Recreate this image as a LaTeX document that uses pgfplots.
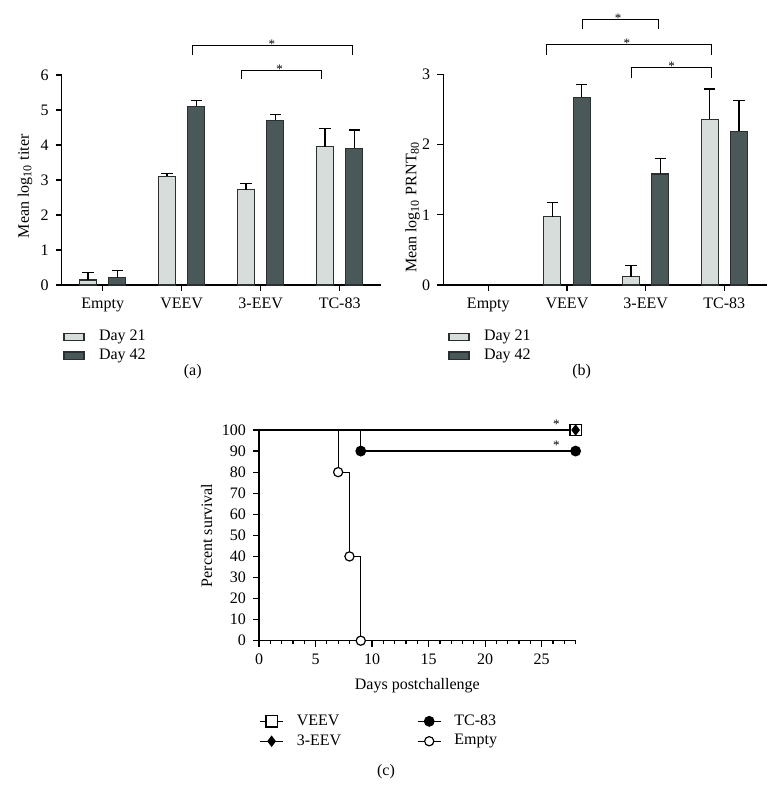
\documentclass[border=0pt]{standalone}
\usepackage{fontspec}
\setmainfont{Liberation Serif}
\usepackage{pgfplots}
\usepackage{pgfplotstable}
\pgfplotsset{compat=1.18}
\definecolor{lightbar}{HTML}{D6DDDB}
\definecolor{darkbar}{HTML}{4A585A}
\definecolor{edge}{HTML}{2A3030}

\pgfplotstableread{
x y e
0 0.14 0.22
1 3.10 0.09
2 2.72 0.17
3 3.95 0.53
}\tAa
\pgfplotstableread{
x y e
0 0.21 0.20
1 5.11 0.15
2 4.71 0.17
3 3.90 0.53
}\tAb
\pgfplotstableread{
x y e
1 0.97 0.21
2 0.12 0.16
3 2.36 0.43
}\tBa
\pgfplotstableread{
x y e
1 2.67 0.19
2 1.58 0.22
3 2.19 0.44
}\tBb

\newcommand\fs{\fontsize{8}{9.6}\selectfont}
\newcommand\fss{\fontsize{6.5}{7}\selectfont}
\tikzset{brk/.style={line width=0.5pt, black}}

\pgfplotsset{
 common/.style={
  scale only axis,
  axis x line=bottom, axis y line=left,
  axis line style={-, line width=0.6pt, black},
  tick align=outside,
  major tick length=3pt, minor tick length=1.8pt,
  tick style={line width=0.6pt, black},
  /pgf/number format/assume math mode=true,
  tick label style={font=\fs},
  label style={font=\fs},
  legend style={font=\fs},
  clip=false,
 },
 barax/.style={common,
   ybar=6.2pt, bar width=8.5pt,
   xtick={0,1,2,3}, xticklabels={Empty,VEEV,3-EEV,TC-83},
   ymin=0, ytick distance=1,
   legend style={draw=none, fill=none, inner sep=0pt,
     at={(axis description cs:0,0)}, anchor=north west,
     yshift=-21.3pt, legend cell align=left, row sep=0pt, column sep=6pt,
     nodes={inner sep=1.2pt}},
 },
 barleg/.style={legend image code/.code={\draw[##1, line width=0.6pt] (0pt,-1.8pt) rectangle (10pt,1.8pt);}},
 errs/.style={error bars/.cd, y dir=plus, y explicit,
   error mark options={rotate=90, mark size=2.8pt, line width=0.6pt, draw=black},
   error bar style={line width=0.6pt, draw=black, solid}},
 d21/.style={fill=lightbar, draw=edge, line width=0.6pt, barleg, errs},
 d42/.style={fill=darkbar, draw=edge, line width=0.6pt, barleg, errs},
}

\begin{document}
\begin{tikzpicture}
\path[use as bounding box] (0,0) rectangle (389pt,403pt);

% (a)
\begin{axis}[barax, at={(30.85pt,260.5pt)}, anchor=south west,
  width=159.65pt, height=105pt, xmin=-0.519, xmax=3.523, ymax=6,
  ylabel={Mean log\textsubscript{10} titer},
  ylabel style={at={(axis description cs:-0.115,0.47)}, anchor=center},
  legend style={xshift=0.65pt}]
\addplot[d21] table[x=x, y=y, y error=e] {\tAa};
\addlegendentry{Day 21}
\addplot[d42] table[x=x, y=y, y error=e] {\tAb};
\addlegendentry{Day 42}
\draw[brk] (axis cs:1.14,6.57) -- (axis cs:1.14,6.84) -- (axis cs:3.16,6.84) -- (axis cs:3.16,6.57);
\node[font=\fss, inner sep=0pt] at ([yshift=0.6pt]axis cs:2.14,6.84) {*};
\draw[brk] (axis cs:1.76,5.88) -- (axis cs:1.76,6.14) -- (axis cs:2.77,6.14) -- (axis cs:2.77,5.88);
\node[font=\fss, inner sep=0pt] at ([yshift=0.6pt]axis cs:2.24,6.14) {*};
\end{axis}

% (b)
\begin{axis}[barax, at={(221.65pt,260.5pt)}, anchor=south west,
  width=161.7pt, height=105.35pt, xmin=-0.572, xmax=3.539, ymax=3,
  ylabel={Mean log\textsubscript{10} PRNT\textsubscript{80}},
  ylabel style={at={(axis description cs:-0.095,0.37)}, anchor=center},
  legend style={xshift=2.35pt}]
\addplot[d21] table[x=x, y=y, y error=e] {\tBa};
\addlegendentry{Day 21}
\addplot[d42] table[x=x, y=y, y error=e] {\tBb};
\addlegendentry{Day 42}
\draw[brk] (axis cs:1.20,3.64) -- (axis cs:1.20,3.78) -- (axis cs:2.16,3.78) -- (axis cs:2.16,3.64);
\node[font=\fss, inner sep=0pt] at ([yshift=0.6pt]axis cs:1.65,3.78) {*};
\draw[brk] (axis cs:0.74,3.28) -- (axis cs:0.74,3.43) -- (axis cs:2.84,3.43) -- (axis cs:2.84,3.28);
\node[font=\fss, inner sep=0pt] at ([yshift=0.6pt]axis cs:1.76,3.43) {*};
\draw[brk] (axis cs:1.82,2.94) -- (axis cs:1.82,3.10) -- (axis cs:2.84,3.10) -- (axis cs:2.84,2.94);
\node[font=\fss, inner sep=0pt] at ([yshift=0.6pt]axis cs:2.33,3.10) {*};
\end{axis}

% (c)
\begin{axis}[common, at={(129.5pt,82.65pt)}, anchor=south west,
  width=158.3pt, height=105.35pt, xmin=0, xmax=28, ymin=0, ymax=100,
  xtick={0,5,...,25}, minor xtick={1,2,...,28}, ytick={0,10,...,100},
  xlabel={Days postchallenge}, ylabel={Percent survival},
  ylabel style={at={(axis description cs:-0.165,0.5)}, anchor=center},
  legend columns=2,
  legend style={draw=none, fill=none, inner sep=0pt,
     at={(axis description cs:0,0)}, anchor=north west,
     yshift=-35.5pt, legend cell align=left, row sep=0.75pt, column sep=5.3pt,
     nodes={inner sep=1.2pt},
     /tikz/every even column/.append style={column sep=36.7pt}},
  legend image code/.code={\draw[#1, mark indices={2}] plot coordinates {(0pt,0pt) (5.8pt,0pt) (11.6pt,0pt)};},
  ]
\addplot[const plot, black, line width=0.6pt, mark=square*, mark size=2.8pt,
  mark options={fill=white, draw=black, solid}, mark indices={2}]
  coordinates {(0,100) (28,100)};
\addlegendentry{VEEV}
\addplot[const plot, black, line width=0.6pt, mark=*, mark size=2.4pt,
  mark options={fill=black, draw=black}, mark indices={2,3}]
  coordinates {(0,100) (9,90) (28,90)};
\addlegendentry{TC-83}
\addplot[const plot, black, line width=0.6pt, mark=diamond*, mark size=2.4pt,
  mark options={fill=black, draw=black}, mark indices={2}]
  coordinates {(0,100) (28,100)};
\addlegendentry{3-EEV}
\addplot[const plot, black, line width=0.6pt, mark=*, mark size=2.3pt,
  mark options={fill=white, draw=black}, mark indices={2,3,4}]
  coordinates {(0,100) (7,80) (8,40) (9,0)};
\addlegendentry{Empty}
\node[font=\fss, inner sep=0pt] at (axis cs:26.3,102.8) {*};
\node[font=\fss, inner sep=0pt] at (axis cs:26.3,92.8) {*};
\end{axis}

\node[font=\fs] at (96.35pt,217pt) {(a)};
\node[font=\fs] at (290.85pt,217pt) {(b)};
\node[font=\fs] at (193pt,17pt) {(c)};
\end{tikzpicture}
\end{document}
